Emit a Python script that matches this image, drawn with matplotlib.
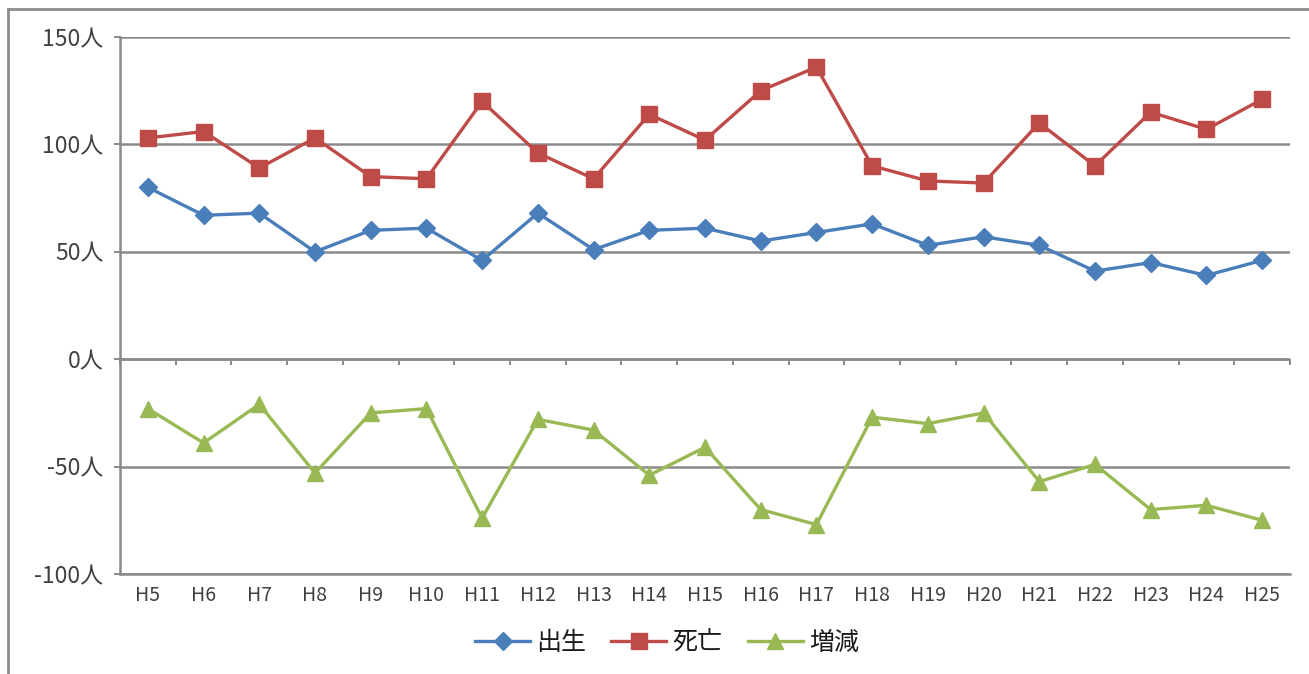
import matplotlib
matplotlib.use("Agg")
import matplotlib.pyplot as plt
from matplotlib.lines import Line2D

plt.rcParams['font.family'] = ['Noto Sans CJK JP', 'DejaVu Sans']

years = ["H5", "H6", "H7", "H8", "H9", "H10", "H11", "H12", "H13", "H14", "H15",
         "H16", "H17", "H18", "H19", "H20", "H21", "H22", "H23", "H24", "H25"]
births = [80, 67, 68, 50, 60, 61, 46, 68, 51, 60, 61, 55, 59, 63, 53, 57, 53, 41, 45, 39, 46]
deaths = [103, 106, 89, 103, 85, 84, 120, 96, 84, 114, 102, 125, 136, 90, 83, 82, 110, 90, 115, 107, 121]
change = [-23, -39, -21, -53, -25, -23, -74, -28, -33, -54, -41, -70, -77, -27, -30, -25, -57, -49, -70, -68, -75]
series_names = ["出生", "死亡", "増減"]
y_ticks = [-100, -50, 0, 50, 100, 150]

W, H = 1309, 674
fig = plt.figure(figsize=(W / 100, H / 100), dpi=100)
fig.patch.set_facecolor("white")

frame_c = "#8c8c8c"
# outer chart frame (top and left edges visible)
fig.lines.append(Line2D([7.5 / W, 7.5 / W], [0, 1 - 8.5 / H], transform=fig.transFigure,
                        color=frame_c, linewidth=2))
fig.lines.append(Line2D([7.5 / W, 1], [1 - 8.5 / H, 1 - 8.5 / H], transform=fig.transFigure,
                        color=frame_c, linewidth=2))

ax = fig.add_axes([120 / W, 1 - 574 / H, (1290 - 120) / W, (574 - 37) / H])
x = list(range(len(years)))

grid_c = "#8a8a8a"
label_c = "#404040"
ax.set_ylim(-100, 150)
ax.set_xlim(-0.5, len(years) - 0.5)
ax.set_yticks(y_ticks)
ax.set_yticklabels([f"{v}人" for v in y_ticks])
ax.yaxis.grid(True, color=grid_c, linewidth=1.8)
ax.set_axisbelow(True)
ax.axhline(0, color=grid_c, linewidth=1.8, zorder=1)

for s in ["top", "right"]:
    ax.spines[s].set_visible(False)
for s in ["left", "bottom"]:
    ax.spines[s].set_color(grid_c)
    ax.spines[s].set_linewidth(1.8)

ax.tick_params(axis="y", direction="out", length=4, width=1.4, color=grid_c,
               labelsize=16.5, labelcolor=label_c, pad=8)
ax.set_xticks(x)
ax.set_xticklabels(years)
ax.tick_params(axis="x", length=0, labelsize=14, labelcolor=label_c, pad=8)

sec = ax.secondary_xaxis(0.4)
sec.set_xticks([i - 0.5 for i in range(len(years) + 1)])
sec.set_xticklabels([])
sec.tick_params(axis="x", direction="out", length=4, width=1.4, color=grid_c)
sec.spines["bottom"].set_visible(False)

blue, red, green = "#4a7ebb", "#be4b48", "#98b954"
ax.plot(x, births, color=blue, lw=2.4, marker="D", ms=9.5, label=series_names[0], zorder=3)
ax.plot(x, deaths, color=red, lw=2.4, marker="s", ms=11, label=series_names[1], zorder=3)
ax.plot(x, change, color=green, lw=2.4, marker="^", ms=11, label=series_names[2], zorder=3)

leg = fig.legend(loc="center", bbox_to_anchor=(667 / W, 1 - 643 / H), ncol=3, frameon=False,
                 fontsize=18, handlelength=2.2, columnspacing=1.0, handletextpad=0.25)
for t in leg.get_texts():
    t.set_color("#1a1a1a")

fig.savefig("out.png", dpi=100)
